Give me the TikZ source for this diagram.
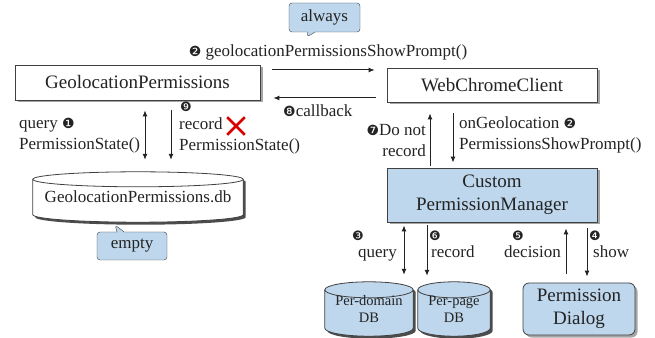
\documentclass[tikz,border=0pt]{standalone}
\usepackage{fontspec}
\setmainfont{Liberation Serif}
\newfontfamily\numfont{DejaVu Sans}
\usetikzlibrary{shapes.callouts,shapes.misc,shadows,arrows.meta,calc,backgrounds}
\definecolor{boxblue}{RGB}{190,215,236}
\definecolor{ink}{RGB}{35,35,35}
\newcommand\cnum[1]{{\numfont\fontsize{14}{14}\selectfont#1}}
% drum outline behind a named node
\newcommand\drum[3]{%
\begin{scope}[on background layer]
\fill[black!70] let \p1=(#1.north west), \p2=(#1.south east), \n1={(\x2-\x1)/2} in
  (\x1+2.5pt,\y1-#2-2.5pt) -- (\x1+2.5pt,\y2+#2-2.5pt)
    arc[start angle=180,end angle=360,x radius=\n1,y radius=#2]
    -- (\x2+2.5pt,\y1-#2-2.5pt)
    arc[start angle=0,end angle=180,x radius=\n1,y radius=#2] -- cycle;
\filldraw[draw=black!75,fill=#3,line width=0.8pt] let \p1=(#1.north west), \p2=(#1.south east), \n1={(\x2-\x1)/2} in
  (\x1,\y1-#2) -- (\x1,\y2+#2)
    arc[start angle=180,end angle=360,x radius=\n1,y radius=#2]
    -- (\x2,\y1-#2)
    arc[start angle=0,end angle=180,x radius=\n1,y radius=#2] -- cycle;
\draw[black!75,line width=0.8pt] let \p1=(#1.north west), \p2=(#1.south east), \n1={(\x2-\x1)/2} in
  (\x1,\y1-#2) arc[start angle=180,end angle=360,x radius=\n1,y radius=#2];
\end{scope}}
\tikzset{
  base/.style={draw=black!75,line width=0.8pt,text=ink,align=center,inner sep=0,
    drop shadow={shadow xshift=2.5pt,shadow yshift=-2.5pt,fill=black!70},
    font=\fontsize{19}{23}\selectfont},
  box/.style={base,rectangle,fill=white},
  bluebox/.style={base,rectangle,fill=boxblue},
  db/.style={rectangle,inner sep=0,text=ink,align=center,font=\fontsize{17}{20}\selectfont},
  tip/.style={rectangle callout,draw=black!75,fill=boxblue,rounded corners=3pt,
    text=ink,inner sep=0,font=\fontsize{17}{20}\selectfont},
  lbl/.style={text=ink,inner sep=0,align=left,font=\fontsize{17}{21}\selectfont},
  num/.style={inner sep=0,text=ink,font=\numfont\fontsize{13}{13}\selectfont},
  arr/.style={-{Latex[length=6pt,width=5pt]},line width=1pt,draw=ink},
  arrr/.style={{Latex[length=6pt,width=5pt]}-{Latex[length=6pt,width=5pt]},line width=1pt,draw=ink}
}
\begin{document}
\begin{tikzpicture}[x=1pt,y=1pt]
\useasboundingbox (0,0) rectangle (655,337);
% boxes
\node[box,minimum width=245pt,minimum height=35pt] (geo) at (137.5,254.5) {GeolocationPermissions};
\node[box,minimum width=210pt,minimum height=34pt] (wcc) at (492,252) {WebChromeClient};
\node[bluebox,minimum width=210pt,minimum height=54pt] (cpm) at (492,142) {Custom\\PermissionManager};
\node[bluebox,rounded corners=6pt,minimum width=112pt,minimum height=52pt] (dlg) at (579,28) {Permission\\Dialog};
% databases
\node[db,minimum width=210pt,minimum height=50pt,yshift=-3pt] (geodb) at (138,143) {GeolocationPermissions.db};
\drum{geodb}{7.5pt}{white}
\node[db,minimum width=88pt,minimum height=54pt,font=\fontsize{14.5}{17}\selectfont,
  yshift=-3pt] (pdom) at (369,31) {Per-domain\\DB};
\drum{pdom}{8pt}{boxblue}
\node[db,minimum width=72pt,minimum height=54pt,font=\fontsize{14.5}{17}\selectfont,
  yshift=-3pt] (ppage) at (454,31) {Per-page\\DB};
\drum{ppage}{8pt}{boxblue}
% callouts
\node[tip,minimum width=71pt,minimum height=29pt,callout absolute pointer={(307,300)}] (always) at (324.5,319.5) {always};
\node[tip,minimum width=70pt,minimum height=28pt,callout absolute pointer={(115,112)}] (empty) at (132,91) {empty};
% top connectors
\draw[arr,shorten <=12pt,shorten >=12pt] (geo.east |- 0,267) -- (wcc.west |- 0,267);
\draw[arr,shorten <=11pt,shorten >=13pt] (wcc.west |- 0,239) -- (geo.east |- 0,239);
\node[lbl] (showlbl) at (328,285) {\cnum{❷} geolocationPermissionsShowPrompt()};
\node[lbl,anchor=west] (cblbl) at (283,226) {\cnum{❽}callback};
% left column
\draw[arrr,shorten <=10pt,shorten >=12pt] (geo.south -| 145,0) -- (geodb.north -| 145,0);
\draw[arr,shorten <=10pt,shorten >=12pt] (geo.south -| 171,0) -- (geodb.north -| 171,0);
\node[lbl,anchor=west] (qlbl) at (19,201.5) {query \cnum{❶}\\PermissionState()};
\node[num] (n9) at (186,230) {❾};
\node[lbl,anchor=west] (rlbl) at (179,201.5) {record\\PermissionState()};
\node[cross out,draw=red!85!black,line width=2.6pt,minimum size=15pt,inner sep=0] (nox) at (236,211) {};
% client to manager
\draw[arr,shorten <=2pt,shorten >=11pt] (cpm.north -| 430,0) -- (wcc.south -| 430,0);
\draw[arr,shorten <=11pt,shorten >=5pt] (wcc.south -| 453,0) -- (cpm.north -| 453,0);
\node[lbl,anchor=east,align=right] (nrlbl) at (426,196) {\cnum{❼}Do not\\record};
\node[lbl,anchor=west] (oglbl) at (459,202) {onGeolocation \cnum{❷}\\PermissionsShowPrompt()};
% manager to stores
\draw[arrr,shorten <=3pt,shorten >=7pt] (cpm.south -| 404,0) -- (pdom.north -| 404,0);
\draw[arr,shorten <=3pt,shorten >=6pt] (cpm.south -| 427,0) -- (ppage.north -| 427,0);
\draw[arr,shorten <=9pt,shorten >=6pt] (dlg.north -| 566,0) -- (cpm.south -| 566,0);
\draw[arr,shorten <=6pt,shorten >=6pt] (cpm.south -| 587,0) -- (dlg.north -| 587,0);
\node[num] (n3) at (358,101) {❸};
\node[lbl,anchor=base east] (q2lbl) at (397,79) {query};
\node[num] (n6) at (435,101) {❻};
\node[lbl,anchor=base west] (r2lbl) at (431,79) {record};
\node[num] (n5) at (518,101) {❺};
\node[lbl,anchor=base east] (declbl) at (561,79) {decision};
\node[num] (n4) at (595,101) {❹};
\node[lbl,anchor=base west] (shlbl) at (593,79) {show};
\end{tikzpicture}
\end{document}
